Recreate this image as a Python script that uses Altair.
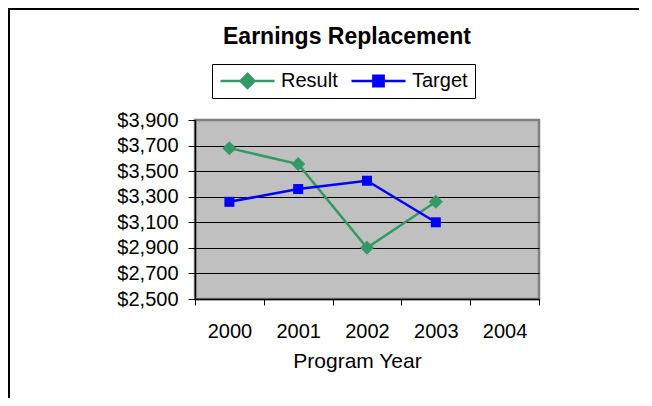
import altair as alt
import pandas as pd

# ---- data ----
years = [2000, 2001, 2002, 2003]
result = [3680, 3555, 2900, 3260]
target = [3260, 3360, 3425, 3100]
series_names = ["Result", "Target"]
x_ticks = [1999.5, 2000.5, 2001.5, 2002.5, 2003.5, 2004.5]
y_ticks = [2500, 2700, 2900, 3100, 3300, 3500, 3700, 3900]

GREEN = "#339966"
BLUE = "#0000FF"
FONT = "Liberation Sans"
W, H = 344, 179

df = pd.DataFrame({
    "year": years * 2,
    "value": result + target,
    "series": ["Result"] * len(years) + ["Target"] * len(years),
})

x_enc = alt.X(
    "year:Q",
    scale=alt.Scale(domain=[1999.5, 2004.5], nice=False, zero=False),
    axis=alt.Axis(
        values=x_ticks, title="Program Year", grid=False,
        labelExpr="datum.value > 2004 ? '' : format(datum.value + 0.5, 'd')",
        labelOffset=W / 10, labelFlush=False, labelOverlap=False,
        tickSize=6, tickColor="black", domainColor="black", domainWidth=1.5,
        labelFontSize=20, labelFont=FONT, labelColor="black",
        labelBaseline="alphabetic", labelPadding=32,
        titleFontSize=21, titleFont=FONT, titleFontWeight="normal", titleColor="black",
        titleX=162, titleY=68, titleBaseline="alphabetic",
    ),
)
y_enc = alt.Y(
    "value:Q",
    scale=alt.Scale(domain=[2500, 3900], nice=False, zero=False),
    axis=alt.Axis(
        values=y_ticks, format="$,.0f", title=None, grid=True,
        gridColor={"condition": {"test": "datum.value >= 3900", "value": "#808080"}, "value": "black"},
        gridWidth=1, tickSize=7, tickColor="black", domainColor="black", domainWidth=1.5,
        labelFontSize=20, labelFont=FONT, labelColor="black", labelPadding=10,
    ),
)

base = alt.Chart(df)

line_r = base.transform_filter(alt.datum.series == "Result").mark_line(
    color=GREEN, strokeWidth=2.5).encode(x=x_enc, y=y_enc)
pts_r = base.transform_filter(alt.datum.series == "Result").mark_point(
    shape="diamond", filled=True, color=GREEN, size=196, opacity=1).encode(x=x_enc, y=y_enc)
line_t = base.transform_filter(alt.datum.series == "Target").mark_line(
    color=BLUE, strokeWidth=2.5).encode(x=x_enc, y=y_enc)
pts_t = base.transform_filter(alt.datum.series == "Target").mark_point(
    shape="square", filled=True, color=BLUE, size=100, opacity=1).encode(x=x_enc, y=y_enc)

leg_paths = [
    "M-1,0H1M0,-0.26L0.26,0L0,0.26L-0.26,0Z",
    "M-1,0H1M-0.19,-0.19H0.19V0.19H-0.19Z",
]
legend = alt.Legend(
    title=None, orient="none", legendX=17, legendY=-56, direction="horizontal",
    strokeColor="black", padding=7, labelFont=FONT, labelFontSize=20,
    labelColor="black", labelOffset=5, columnPadding=12, symbolSize=2916,
    symbolStrokeWidth=2.5, clipHeight=20,
)
leg = base.transform_filter("false").mark_point(filled=True, strokeWidth=2.5, opacity=1).encode(
    x=x_enc, y=y_enc,
    fill=alt.Fill("series:N", scale=alt.Scale(domain=series_names, range=[GREEN, BLUE]), legend=legend),
    stroke=alt.Stroke("series:N", scale=alt.Scale(domain=series_names, range=[GREEN, BLUE]), legend=legend),
    shape=alt.Shape("series:N", scale=alt.Scale(domain=series_names, range=leg_paths), legend=legend),
)

border = alt.Chart(pd.DataFrame({"a": [0]})).mark_rect(
    fill="transparent", stroke="black", strokeWidth=2).encode(
    x=alt.value(-186), x2=alt.value(800), y=alt.value(-111), y2=alt.value(600))

chart = alt.layer(line_r, pts_r, line_t, pts_t, leg, border).properties(
    width=W, height=H,
    title=alt.TitleParams(
        text="Earnings Replacement", font=FONT, fontSize=23, fontWeight="bold",
        color="black", anchor="middle", frame="group", dx=-20, offset=0, dy=59,
        baseline="alphabetic"),
    autosize=alt.AutoSizeParams(type="none"),
    padding={"left": 187, "top": 112, "right": 100, "bottom": 99},
    background="white",
).configure_view(fill="#C0C0C0", stroke="#808080", strokeWidth=2.5)

chart.save("out.html", embed_options={"renderer": "svg", "actions": False})
